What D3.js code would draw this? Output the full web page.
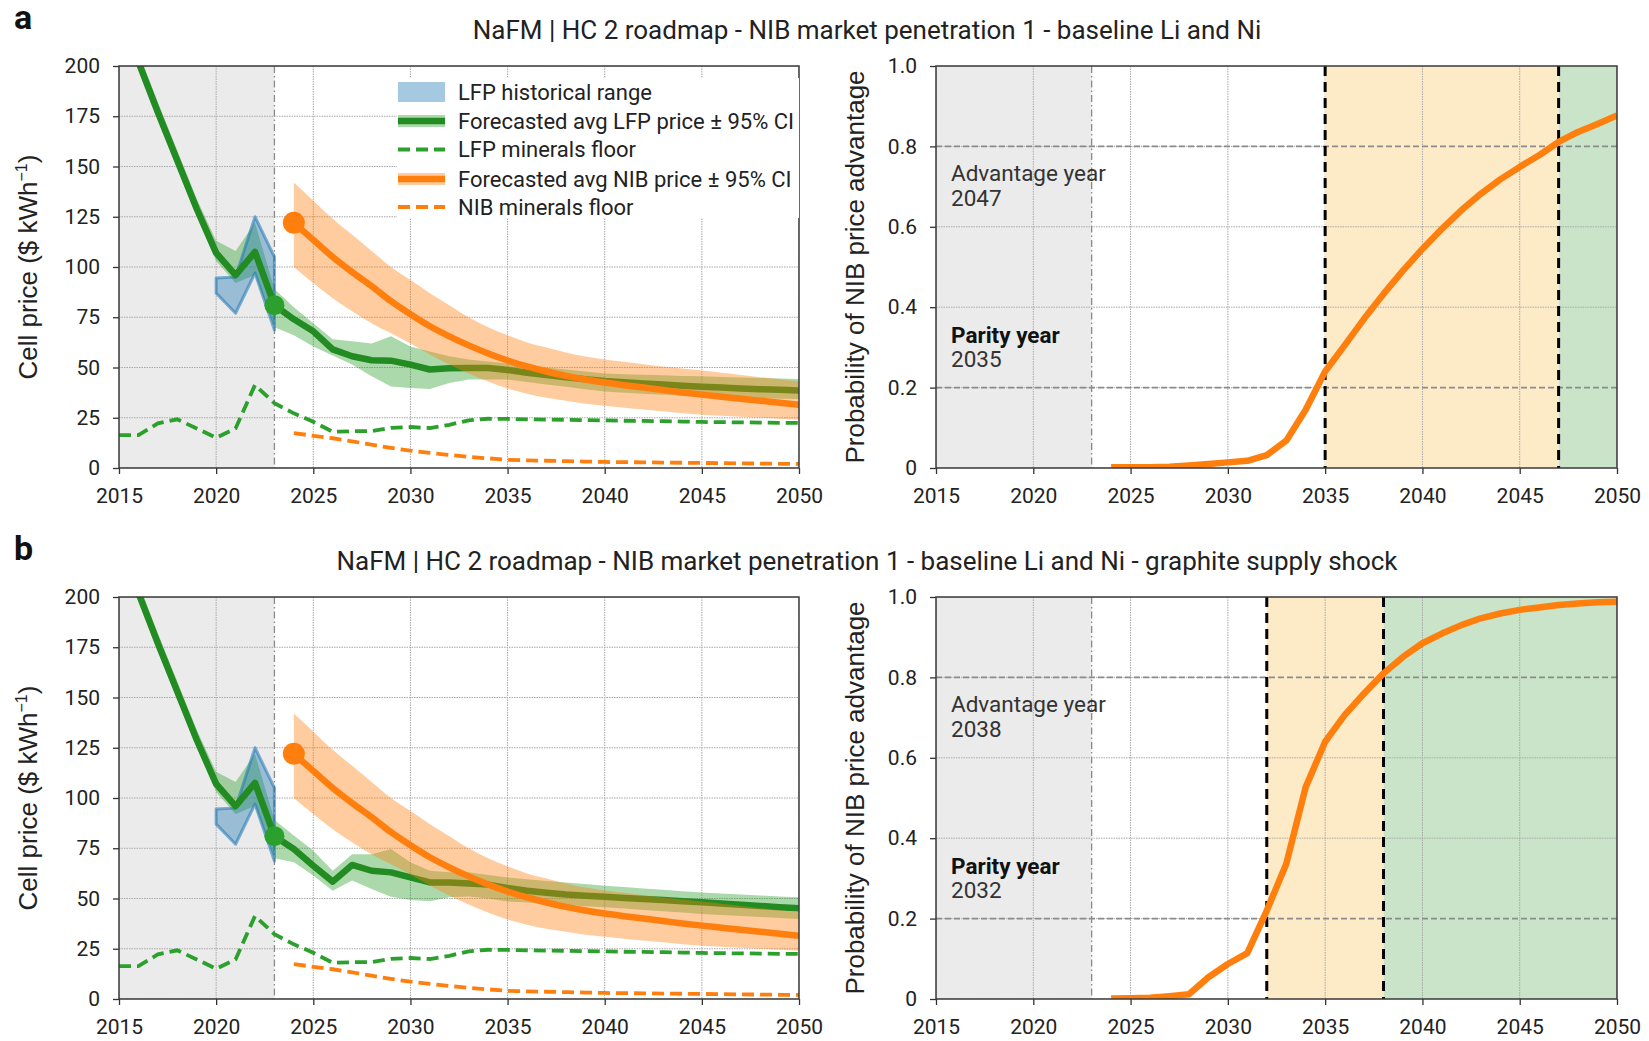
<!DOCTYPE html>
<html>
<head>
<meta charset="utf-8">
<script src="https://cdn.jsdelivr.net/npm/d3@7"></script>
<style>
    body { margin: 0; background: #fff; }
    svg text { font-family: Roboto, "Noto Sans", sans-serif; }
    .tick text { font-size: 21px; fill: #222; }
    .tick line { stroke: #333; stroke-width: 1.3; }
    .axis-title { font-family: "Liberation Sans", Arial, sans-serif !important; font-size: 26px; fill: #222; }
    .panel-title { font-size: 26px; fill: #222; }
    .panel-label { font-size: 34px; font-weight: bold; fill: #111; }
    .legend text { font-size: 22px; fill: #222; }
    .note { font-size: 22.5px; fill: #333; }
</style>
</head>
<body>
<svg id="chart" width="1649" height="1041"></svg>
<script>
// ---- data ----
const years = [2015, 2016, 2017, 2018, 2019, 2020, 2021, 2022, 2023, 2024, 2025, 2026,
    2027, 2028, 2029, 2030, 2031, 2032, 2033, 2034, 2035, 2036, 2037, 2038,
    2039, 2040, 2041, 2042, 2043, 2044, 2045, 2046, 2047, 2048, 2049, 2050];
const forecastYears = [2024, 2025, 2026, 2027, 2028, 2029, 2030, 2031, 2032, 2033, 2034,
    2035, 2036, 2037, 2038, 2039, 2040, 2041, 2042, 2043, 2044, 2045, 2046,
    2047, 2048, 2049, 2050];
const histYears = [2020, 2021, 2022, 2023];
const xTicks = [2015, 2020, 2025, 2030, 2035, 2040, 2045, 2050];
const priceTicks = [0, 25, 50, 75, 100, 125, 150, 175, 200];
const probTicks = [0, 0.2, 0.4, 0.6, 0.8, 1.0];

// LFP historical range (blue)
const lfpHistLow = [87, 77, 97, 68.6];
const lfpHistHigh = [94.5, 95, 125, 105];

// Forecasted avg LFP price, panel a
const lfpAvgA = [228, 202, 177, 153, 129, 107, 96, 107.5, 81, 74, 68, 59, 55.6, 53.6, 53.4, 51.4,
    49, 49.6, 49.7, 49.7, 48.8, 47.4, 46.2, 45.2, 44.2, 43.3, 42.7, 42.1, 41.5, 40.9,
    40.4, 40, 39.6, 39.2, 38.9, 38.6];
const lfpLowA = [224, 198, 173, 149, 125, 103, 92, 96, 70, 66, 60.5, 56, 51.5, 45.6, 40.6, 39.8,
    39.3, 42.3, 44, 44, 44, 42.8, 41.6, 40.4, 39.2, 38, 37.5, 37, 36.5, 36,
    35.6, 35.3, 35, 34.8, 34.5, 34.3];
const lfpHighA = [232, 207, 182, 158, 134, 113, 108, 122, 89, 80, 72, 64, 63, 62, 65.5, 60.5,
    58, 55.6, 54, 53, 52, 51, 50, 49, 48, 47, 46.7, 46.4, 46.1, 45.8,
    45.6, 45.3, 45, 44.8, 44.5, 44.3];

// Forecasted avg LFP price, panel b (graphite supply shock)
const lfpAvgB = [228, 202, 177, 153, 129, 107, 96, 107.5, 81, 74.6, 66.3, 58.4, 66.7, 63.8, 63, 60.5,
    58, 58, 57.5, 56.9, 55.2, 53.9, 52.9, 52, 51.4, 50.9, 50.3, 49.7, 49.2, 48.6,
    48.1, 47.5, 46.9, 46.3, 45.7, 45.1];
const lfpLowB = [224, 198, 173, 149, 125, 103, 92, 96, 70, 68, 61.4, 53.9, 59, 54.7, 50.9, 49.3,
    48.6, 50.6, 51, 50, 48.5, 48, 47.4, 46.8, 46.2, 45.6, 45, 44.3, 43.6, 43,
    42.3, 41.8, 41.3, 40.8, 40.3, 39.8];
const lfpHighB = [232, 207, 182, 158, 134, 113, 108, 122, 89, 81.3, 73.8, 63.8, 72, 72, 74.6, 68,
    63.8, 63, 63, 61.7, 60.5, 59.6, 58.7, 57.9, 57.2, 56.4, 55.7, 55, 54.3, 53.6,
    53, 52.5, 52, 51.5, 51, 50.6];

// LFP minerals floor
const lfpFloor = [16.4, 16.4, 22.2, 24.2, 19.7, 15, 19.7, 41.3, 32.2, 27.2, 23, 18, 18.3, 18.3, 20, 20.4,
    19.9, 21.5, 23.7, 24.5, 24.4, 24.2, 24.1, 24, 23.8, 23.7, 23.5, 23.4, 23.3, 23.1,
    22.9, 22.8, 22.7, 22.6, 22.5, 22.4];

// Forecasted avg NIB price (same in both panels)
const nibAvg = [122, 113.5, 105, 97.5, 90.5, 83, 76.5, 70.5, 65.5, 61, 57, 53.5, 50.5, 48, 45.8,
    44, 42.5, 41.2, 40, 38.8, 37.6, 36.5, 35.5, 34.5, 33.5, 32.5, 31.5];
const nibLow = [100, 92, 84.5, 78, 72, 67, 62, 56.5, 51.5, 47, 43, 39.5, 37, 35, 33.5,
    32, 31, 30, 29.1, 28.2, 27.3, 26.5, 26, 25.5, 25, 24.5, 24];
const nibHigh = [142, 133, 124, 116, 108, 100, 93.5, 87, 81, 75, 70, 66, 62.5, 60, 57.5,
    55.5, 54, 52.8, 51.6, 50.5, 49.5, 48.5, 47.4, 46.3, 45.2, 44.1, 43];
const nibFloor = [17.4, 16, 14.8, 13.3, 11.6, 10, 8.6, 7.5, 6.5, 5.5, 4.8, 4.1, 3.8, 3.6, 3.4,
    3.2, 3, 2.9, 2.8, 2.7, 2.6, 2.5, 2.4, 2.3, 2.2, 2.1, 2];

// Probability of NIB price advantage
const probA = [0.002, 0.002, 0.002, 0.003, 0.006, 0.01, 0.014, 0.018, 0.032, 0.068, 0.145,
    0.24, 0.305, 0.371, 0.433, 0.491, 0.545, 0.595, 0.641, 0.682, 0.718, 0.749,
    0.778, 0.811, 0.836, 0.856, 0.877];
const probB = [0.001, 0.002, 0.003, 0.007, 0.012, 0.054, 0.087, 0.114, 0.22, 0.336, 0.527,
    0.64, 0.706, 0.76, 0.81, 0.851, 0.885, 0.909, 0.93, 0.947, 0.959, 0.968,
    0.974, 0.98, 0.984, 0.987, 0.988];

const panels = [
    {
        label: 'a', id: 'a',
        title: 'NaFM | HC 2 roadmap - NIB market penetration 1 - baseline Li and Ni',
        top: 66, lfpAvg: lfpAvgA, lfpLow: lfpLowA, lfpHigh: lfpHighA,
        prob: probA, parity: 2035, advantage: 2047, legend: true
    },
    {
        label: 'b', id: 'b',
        title: 'NaFM | HC 2 roadmap - NIB market penetration 1 - baseline Li and Ni - graphite supply shock',
        top: 597, lfpAvg: lfpAvgB, lfpLow: lfpLowB, lfpHigh: lfpHighB,
        prob: probB, parity: 2032, advantage: 2038, legend: false
    }
];

// ---- layout ----
const plotH = 402;
const left = {x: 119, w: 680};
const right = {x: 936, w: 681};
const histEnd = 2023;
const colors = {
    green: '#228b22', greenLight: '#2ca02c', orange: '#ff7f0e', blue: '#1f77b4',
    hist: '#ebebeb', grid: '#a8a8a8', frame: '#3a3a3a',
    parityZone: '#fdebc8', advantageZone: '#c9e4c8'
};

const svg = d3.select('#chart');
const yPrice = d3.scaleLinear().domain([0, 200]).range([plotH, 0]);
const yProb = d3.scaleLinear().domain([0, 1]).range([plotH, 0]);
const xL = d3.scaleLinear().domain([2015, 2050]).range([0, left.w]);
const xR = d3.scaleLinear().domain([2015, 2050]).range([0, right.w]);

function clip(g, id, w) {
    svg.append('defs').append('clipPath').attr('id', id)
        .append('rect').attr('width', w).attr('height', plotH);
    return g.append('g').attr('clip-path', `url(#${id})`);
}

function grid(g, x, y, yTicks, w) {
    g.append('rect')
        .attr('width', x(histEnd)).attr('height', plotH)
        .attr('fill', colors.hist);
    g.append('g').selectAll('line').data(xTicks).join('line')
        .attr('x1', d => x(d)).attr('x2', d => x(d))
        .attr('y1', 0).attr('y2', plotH)
        .attr('stroke', colors.grid).attr('stroke-width', 1)
        .attr('stroke-dasharray', '1.5,1');
    g.append('g').selectAll('line').data(yTicks).join('line')
        .attr('x1', 0).attr('x2', w)
        .attr('y1', d => y(d)).attr('y2', d => y(d))
        .attr('stroke', colors.grid).attr('stroke-width', 1)
        .attr('stroke-dasharray', '1.5,1');
    g.append('line')
        .attr('x1', x(histEnd)).attr('x2', x(histEnd))
        .attr('y1', 0).attr('y2', plotH)
        .attr('stroke', '#8a8a8a').attr('stroke-width', 1.3)
        .attr('stroke-dasharray', '7,3,1.5,3');
}

function axes(g, x, y, yTicks, w, fmt) {
    g.append('g')
        .attr('transform', `translate(0,${plotH})`)
        .call(d3.axisBottom(x).tickValues(xTicks).tickFormat(d3.format('d')).tickSize(6).tickPadding(14))
        .call(a => a.select('.domain').remove());
    g.append('g')
        .call(d3.axisLeft(y).tickValues(yTicks).tickFormat(fmt).tickSize(6).tickPadding(13))
        .call(a => a.select('.domain').remove());
    g.append('rect')
        .attr('width', w).attr('height', plotH)
        .attr('fill', 'none').attr('stroke', colors.frame).attr('stroke-width', 1.5);
}

function drawPrice(p) {
    const g = svg.append('g').attr('transform', `translate(${left.x},${p.top})`);
    const x = xL, y = yPrice;
    const body = clip(g, `clip-price-${p.id}`, left.w);
    grid(body, x, y, priceTicks, left.w);

    const lfp = years.map((yr, i) => ({yr, avg: p.lfpAvg[i], lo: p.lfpLow[i], hi: p.lfpHigh[i], floor: lfpFloor[i]}));
    const nib = forecastYears.map((yr, i) => ({yr, avg: nibAvg[i], lo: nibLow[i], hi: nibHigh[i], floor: nibFloor[i]}));
    const hist = histYears.map((yr, i) => ({yr, lo: lfpHistLow[i], hi: lfpHistHigh[i]}));

    const band = d3.area().x(d => x(d.yr)).y0(d => y(d.lo)).y1(d => y(d.hi));
    const avgLine = d3.line().x(d => x(d.yr)).y(d => y(d.avg));
    const floorLine = d3.line().x(d => x(d.yr)).y(d => y(d.floor));

    body.append('path').datum(lfp).attr('d', band)
        .attr('fill', colors.greenLight).attr('fill-opacity', 0.4);
    body.append('path').datum(hist).attr('d', band)
        .attr('fill', colors.blue).attr('fill-opacity', 0.4)
        .attr('stroke', colors.blue).attr('stroke-opacity', 0.55)
        .attr('stroke-width', 3).attr('stroke-linejoin', 'round');
    body.append('path').datum(lfp).attr('d', avgLine)
        .attr('fill', 'none').attr('stroke', colors.green).attr('stroke-width', 6.5)
        .attr('stroke-linejoin', 'round');
    body.append('circle')
        .attr('cx', x(histEnd)).attr('cy', y(p.lfpAvg[years.indexOf(histEnd)]))
        .attr('r', 10).attr('fill', colors.greenLight);

    body.append('path').datum(nib).attr('d', band.curve(d3.curveMonotoneX))
        .attr('fill', colors.orange).attr('fill-opacity', 0.4);
    body.append('path').datum(nib).attr('d', avgLine.curve(d3.curveMonotoneX))
        .attr('fill', 'none').attr('stroke', colors.orange).attr('stroke-width', 6.5);
    body.append('circle')
        .attr('cx', x(forecastYears[0])).attr('cy', y(nibAvg[0]))
        .attr('r', 11).attr('fill', colors.orange);

    body.append('path').datum(lfp).attr('d', floorLine)
        .attr('fill', 'none').attr('stroke', colors.greenLight).attr('stroke-width', 3.8)
        .attr('stroke-dasharray', '12,6');
    body.append('path').datum(nib).attr('d', floorLine)
        .attr('fill', 'none').attr('stroke', colors.orange).attr('stroke-width', 3.8)
        .attr('stroke-dasharray', '12,6');

    axes(g, x, y, priceTicks, left.w, d3.format('d'));

    const lab = g.append('text')
        .attr('class', 'axis-title')
        .attr('transform', `translate(${-82},${plotH / 2}) rotate(-90)`)
        .attr('text-anchor', 'middle');
    lab.append('tspan').text('Cell price ($ kWh');
    lab.append('tspan').attr('font-size', 16).attr('dy', -10).text('−1');
    lab.append('tspan').attr('dy', 10).text(')');

    if (p.legend) drawLegend(g);
}

function drawLegend(g) {
    const lg = g.append('g').attr('class', 'legend').attr('transform', 'translate(278,12)');
    lg.append('rect').attr('width', 402).attr('height', 140).attr('fill', '#fff');
    const rowY = [14, 43, 71.5, 101, 129];
    const items = [
        {type: 'patch', text: 'LFP historical range', color: colors.blue},
        {type: 'line', text: 'Forecasted avg LFP price \u00b1 95% CI', color: colors.green, band: colors.greenLight},
        {type: 'dash', text: 'LFP minerals floor', color: colors.greenLight},
        {type: 'line', text: 'Forecasted avg NIB price \u00b1 95% CI', color: colors.orange, band: colors.orange},
        {type: 'dash', text: 'NIB minerals floor', color: colors.orange}
    ];
    items.forEach((it, i) => {
        const row = lg.append('g').attr('transform', `translate(0,${rowY[i]})`);
        if (it.type === 'patch') {
            row.append('rect').attr('x', 1).attr('y', -10).attr('width', 47).attr('height', 20)
                .attr('fill', it.color).attr('fill-opacity', 0.4);
        } else if (it.type === 'line') {
            row.append('rect').attr('x', 1).attr('y', -6).attr('width', 47).attr('height', 12)
                .attr('fill', it.band).attr('fill-opacity', 0.4);
            row.append('line').attr('x1', 1).attr('x2', 48)
                .attr('stroke', it.color).attr('stroke-width', 6.5);
        } else {
            row.append('line').attr('x1', 1).attr('x2', 48)
                .attr('stroke', it.color).attr('stroke-width', 3.8).attr('stroke-dasharray', '12,6');
        }
        row.append('text').attr('x', 61).attr('dy', '0.35em').text(it.text);
    });
}

function drawProb(p) {
    const g = svg.append('g').attr('transform', `translate(${right.x},${p.top})`);
    const x = xR, y = yProb;
    const body = clip(g, `clip-prob-${p.id}`, right.w);
    grid(body, x, y, probTicks, right.w);

    body.append('rect')
        .attr('x', x(p.parity)).attr('width', x(p.advantage) - x(p.parity)).attr('height', plotH)
        .attr('fill', colors.parityZone);
    body.append('rect')
        .attr('x', x(p.advantage)).attr('width', right.w - x(p.advantage)).attr('height', plotH)
        .attr('fill', colors.advantageZone);
    // redraw gridlines over the coloured zones
    body.append('g').selectAll('line').data(xTicks.filter(d => d > p.parity)).join('line')
        .attr('x1', d => x(d)).attr('x2', d => x(d)).attr('y1', 0).attr('y2', plotH)
        .attr('stroke', colors.grid).attr('stroke-dasharray', '1.5,1');
    body.append('g').selectAll('line').data([0.4, 0.6]).join('line')
        .attr('x1', x(p.parity)).attr('x2', right.w).attr('y1', d => y(d)).attr('y2', d => y(d))
        .attr('stroke', colors.grid).attr('stroke-dasharray', '1.5,1');

    body.append('g').selectAll('line').data([0.2, 0.8]).join('line')
        .attr('x1', 0).attr('x2', right.w).attr('y1', d => y(d)).attr('y2', d => y(d))
        .attr('stroke', '#8c8c8c').attr('stroke-width', 1.6).attr('stroke-dasharray', '6,3');
    body.append('g').selectAll('line').data([p.parity, p.advantage]).join('line')
        .attr('x1', d => x(d)).attr('x2', d => x(d)).attr('y1', 0).attr('y2', plotH)
        .attr('stroke', '#000').attr('stroke-width', 3).attr('stroke-dasharray', '10,6');

    const pts = forecastYears.map((yr, i) => ({yr, v: p.prob[i]}));
    body.append('path').datum(pts)
        .attr('d', d3.line().x(d => x(d.yr)).y(d => y(d.v)))
        .attr('fill', 'none').attr('stroke', colors.orange).attr('stroke-width', 6.5)
        .attr('stroke-linejoin', 'round');

    const noteX = 15;
    g.append('text').attr('class', 'note').attr('x', noteX).attr('y', y(0.714)).text('Advantage year');
    g.append('text').attr('class', 'note').attr('x', noteX).attr('y', y(0.652)).text(p.advantage);
    g.append('text').attr('class', 'note').attr('x', noteX).attr('y', y(0.311))
        .attr('font-weight', 'bold').style('fill', '#111').text('Parity year');
    g.append('text').attr('class', 'note').attr('x', noteX).attr('y', y(0.251)).text(p.parity);

    axes(g, x, y, probTicks, right.w, d => (d === 0 ? '0' : d.toFixed(1)));

    g.append('text')
        .attr('class', 'axis-title')
        .attr('transform', `translate(${-72},${plotH / 2}) rotate(-90)`)
        .attr('text-anchor', 'middle')
        .text('Probability of NIB price advantage');
}

panels.forEach(p => {
    svg.append('text').attr('class', 'panel-label')
        .attr('x', 14).attr('y', p.top - 37).text(p.label);
    svg.append('text').attr('class', 'panel-title')
        .attr('x', 867).attr('y', p.top - 27).attr('text-anchor', 'middle').text(p.title);
    drawPrice(p);
    drawProb(p);
});
</script>
</body>
</html>
